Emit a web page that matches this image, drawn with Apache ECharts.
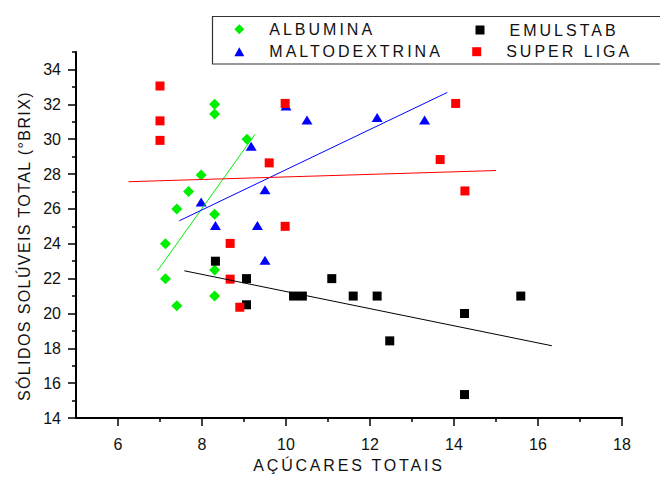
<!DOCTYPE html>
<html><head><meta charset="utf-8">
<script src="https://cdn.jsdelivr.net/npm/echarts@6/dist/echarts.min.js"></script>
<style>html,body{margin:0;padding:0;background:#fff}#chart{width:660px;height:478px}</style>
</head><body><div id="chart"></div>
<script>
// ---- data ----
const seriesNames = ['ALBUMINA', 'MALTODEXTRINA', 'EMULSTAB', 'SUPER LIGA'];
const albuminaX = [8.3, 8.3, 9.07, 7.98, 7.68, 7.4, 8.3, 7.13, 7.13, 8.3, 7.4, 8.3];
const albuminaY = [32.0, 31.45, 30.0, 27.95, 27.0, 26.0, 25.7, 24.0, 22.0, 22.5, 20.45, 21.0];
const maltoX = [9.17, 7.98, 9.5, 8.32, 9.32, 10.0, 10.5, 12.17, 13.3, 9.5];
const maltoY = [29.6, 26.4, 27.1, 25.05, 25.05, 31.9, 31.1, 31.25, 31.1, 23.05];
const emulX = [8.32, 9.06, 9.06, 10.18, 10.39, 11.09, 11.6, 12.17, 12.47, 14.25, 14.25, 15.59];
const emulY = [23.0, 22.0, 20.5, 21.0, 21.0, 22.0, 21.0, 21.0, 18.43, 20.0, 15.35, 21.0];
const superX = [7.0, 7.0, 7.0, 9.98, 9.6, 9.98, 8.67, 8.67, 8.9, 14.04, 13.67, 14.26];
const superY = [33.05, 31.05, 29.93, 32.05, 28.64, 25.0, 24.02, 21.97, 20.36, 32.05, 28.83, 27.03];
// linear fit lines (end points)
const albuminaFitX = [6.94, 9.26], albuminaFitY = [22.45, 30.27];
const maltoFitX = [7.46, 13.84], maltoFitY = [25.32, 32.68];
const emulFitX = [7.58, 16.33], emulFitY = [22.45, 18.15];
const superFitX = [6.25, 15.0], superFitY = [27.56, 28.2];
// ticks
const xMajor = [6, 8, 10, 12, 14, 16, 18];
const xMinor = [7, 9, 11, 13, 15, 17];
const yMajor = [14, 16, 18, 20, 22, 24, 26, 28, 30, 32, 34];
const yMinor = [15, 17, 19, 21, 23, 25, 27, 29, 31, 33, 35];
const xName = 'AÇÚCARES TOTAIS';
const yName = 'SÓLIDOS SOLÚVEIS TOTAL (°BRIX)';

const zip = (xs, ys) => xs.map((x, i) => [x, ys[i]]);
const FONT = '"Liberation Sans", Arial, sans-serif';
const chart = echarts.init(document.getElementById('chart'), null, {renderer: 'svg'});

const scatter = (name, xs, ys, symbol, size, color) => ({
  name, type: 'scatter', data: zip(xs, ys), symbol, symbolSize: size, silent: true,
  itemStyle: {color, opacity: 1}, emphasis: {disabled: true}
});
const fit = (xs, ys, color) => ({
  type: 'line', data: zip(xs, ys), symbol: 'none', silent: true, z: 3,
  lineStyle: {color, width: 1}, emphasis: {disabled: true}
});
const legendItem = (name, left, top, w, h) => ({
  data: [name], left, top, padding: 0, itemWidth: w, itemHeight: h, selectedMode: false,
  textStyle: {fontFamily: FONT, fontSize: 16, color: '#111', padding: [0, 0, 0, 20], lineHeight: 20}
});

chart.setOption({
  animation: false,
  backgroundColor: '#fff',
  grid: {left: 76, right: 38, top: 52, bottom: 56},
  graphic: [{type: 'rect', shape: {x: 212.5, y: 16.5, width: 470, height: 47.5},
    style: {fill: 'none', stroke: '#333', lineWidth: 1.2}, silent: true}],
  legend: [
    legendItem('ALBUMINA', 234.3, 19.3, 10, 10),
    legendItem('MALTODEXTRINA', 234.3, 41.7, 10, 9),
    legendItem('EMULSTAB', 475.5, 20, 9, 9),
    legendItem('SUPER LIGA', 472.2, 41.7, 9, 9)
  ],
  xAxis: [{
    type: 'value', min: 5, max: 18, position: 'bottom',
    name: xName, nameLocation: 'middle', nameGap: 38,
    nameTextStyle: {fontFamily: FONT, fontSize: 16, color: '#111'},
    axisLine: {show: true, lineStyle: {color: '#000', width: 2}},
    axisTick: {show: true, customValues: xMajor, length: 8, lineStyle: {color: '#000', width: 1.5}},
    axisLabel: {customValues: xMajor, margin: 18, fontFamily: FONT, fontSize: 16, color: '#111'},
    splitLine: {show: false}
  }, {
    type: 'value', min: 5, max: 18, position: 'bottom',
    axisLine: {show: false},
    axisTick: {show: true, customValues: xMinor, length: 4, lineStyle: {color: '#000', width: 1.5}},
    axisLabel: {show: false}, splitLine: {show: false}
  }],
  yAxis: [{
    type: 'value', min: 14, max: 35, position: 'left',
    name: yName, nameLocation: 'middle', nameGap: 44,
    nameTextStyle: {fontFamily: FONT, fontSize: 16, color: '#111', padding: [0, 22, 0, 0]},
    axisLine: {show: true, lineStyle: {color: '#000', width: 2}},
    axisTick: {show: true, customValues: yMajor, length: 8, lineStyle: {color: '#000', width: 1.5}},
    axisLabel: {customValues: yMajor, margin: 15, fontFamily: FONT, fontSize: 16, color: '#111'},
    splitLine: {show: false}
  }, {
    type: 'value', min: 14, max: 35, position: 'left',
    axisLine: {show: false},
    axisTick: {show: true, customValues: yMinor, length: 4, lineStyle: {color: '#000', width: 1.5}},
    axisLabel: {show: false}, splitLine: {show: false}
  }],
  series: [
    scatter('ALBUMINA', albuminaX, albuminaY, 'diamond', [11, 11], '#00ee00'),
    scatter('MALTODEXTRINA', maltoX, maltoY, 'triangle', [11, 9], '#0000ff'),
    scatter('EMULSTAB', emulX, emulY, 'rect', [9, 9], '#000000'),
    scatter('SUPER LIGA', superX, superY, 'rect', [9, 9], '#ff0000'),
    fit(albuminaFitX, albuminaFitY, '#00ee00'),
    fit(maltoFitX, maltoFitY, '#0000ff'),
    fit(emulFitX, emulFitY, '#000000'),
    fit(superFitX, superFitY, '#ff0000')
  ]
});

const spacing = {
  'ALBUMINA': '3px', 'MALTODEXTRINA': '3px', 'EMULSTAB': '3px', 'SUPER LIGA': '3px'
};
spacing[xName] = '2.8px';
spacing[yName] = '1.4px';
function applySpacing() {
  document.querySelectorAll('#chart text').forEach(t => {
    const s = spacing[t.textContent.trim()];
    if (s) t.style.letterSpacing = s;
  });
}
applySpacing();
chart.on('finished', applySpacing);
setTimeout(applySpacing, 0);
setTimeout(applySpacing, 100);
setTimeout(applySpacing, 400);
</script></body></html>
